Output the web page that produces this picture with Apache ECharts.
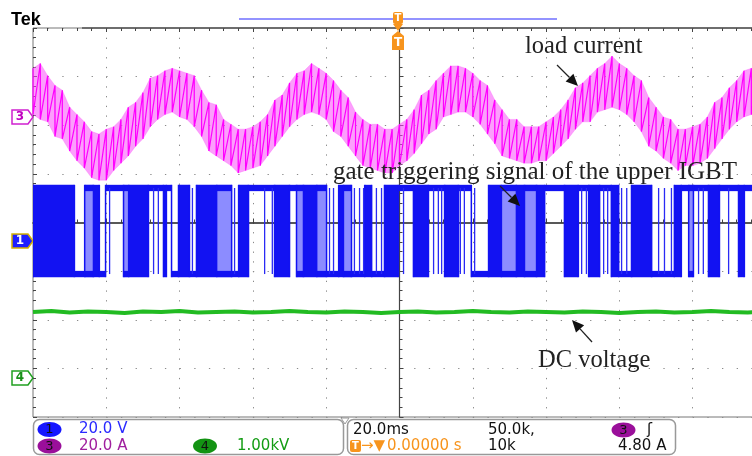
<!DOCTYPE html>
<html>
<head>
<meta charset="utf-8">
<script src="https://cdn.jsdelivr.net/npm/echarts@6/dist/echarts.min.js"></script>
<style>
html, body { margin: 0; padding: 0; background: #fff; }
#scope { width: 752px; height: 456px; }
</style>
</head>
<body>
<div id="scope"></div>
<script>
// timebase 20 ms/div, 10 divisions, trigger at centre -> -100 .. 100 ms
var sampleStep = 2; // ms between current samples

// ch3 load current (A): upper and lower edge of the noisy trace, one pair every 2 ms
var currentTop = [
  20, 22, 17, 13, 11, 4, 1, -2, -6, -7,
  -5, -4, -1, 4, 6, 10, 16, 17, 19, 20,
  19, 18, 17, 11, 6, 5, -1, -3, -5, -5,
  -4, -2, 1, 7, 9, 14, 18, 19, 22, 20,
  18, 15, 11, 8, 2, -1, -3, -3, -5, -5,
  -3, -1, 3, 9, 11, 15, 18, 21, 21, 20,
  18, 15, 13, 7, 3, -1, -1, -4, -4, -4,
  -2, 0, 3, 7, 12, 14, 17, 20, 22, 25,
  22, 20, 17, 15, 8, 4, 0, -1, -5, -5,
  -4, -3, 0, 6, 8, 12, 15, 19, 20, 21, 21
];
var currentBottom = [
  1, -1, -2, -8, -9, -14, -18, -21, -25, -26,
  -26, -22, -19, -16, -12, -9, -4, -1, 1, 2,
  0, -1, -4, -8, -14, -16, -18, -20, -23, -22,
  -21, -20, -16, -12, -8, -4, -1, 1, 2, 1,
  -1, -6, -8, -12, -16, -20, -21, -22, -23, -23,
  -20, -18, -15, -11, -7, -5, 0, 1, 2, 2,
  0, -3, -7, -11, -16, -17, -18, -19, -19, -18,
  -18, -15, -12, -9, -5, -2, -2, 2, 3, 4,
  3, 1, -2, -6, -12, -14, -17, -19, -22, -20,
  -20, -19, -17, -13, -9, -5, -2, 0, 1, 2, 2
];

// ch1 gate signal: segment borders (ms) and what the trace does in between
// H high, L low, D dense switching, d sparser switching
var pwmEdges = [
  -100, -88.7, -85.9, -83.5, -81.9, -80.2, -75.3, -73.9, -68.5, -64.4,
  -63.6, -62.2, -60.3, -57.3, -55.4, -49.9, -45.8, -43.9, -41.2, -34.1,
  -30.0, -28.1, -26.2, -22.6, -19.9, -16.6, -15.3, -13.1, -9.5, -7.6,
  -4.1, -0.3, 3.8, 7.9, 12.3, 16.1, 19.6, 24.3, 27.8, 31.9,
  34.1, 37.4, 39.6, 45.0, 48.8, 51.6, 54.6, 57.8, 59.8, 63.3,
  68.8, 75.0, 76.9, 78.9, 80.2, 84.3, 87.3, 92.5, 94.1, 100
];
var pwmStates = [
  'D', 'L', 'd', 'D', 'L', 'H', 'd', 'D', 'H', 'D',
  'H', 'L', 'D', 'L', 'D', 'd', 'L', 'D', 'H', 'D',
  'H', 'd', 'D', 'd', 'L', 'D', 'd', 'L', 'D', 'L',
  'D', 'H', 'D', 'H', 'D', 'H', 'L', 'D', 'd', 'D',
  'd', 'D', 'H', 'D', 'H', 'D', 'H', 'D', 'L', 'D',
  'L', 'D', 'H', 'd', 'H', 'D', 'H', 'D', 'H'
];
// single switching pulses inside the plain stretches (ms)
var pwmPulses = [
  -79.1, -67.1, -65.8, -56.5, -45.0, -36.8, -34.7, -19.1, -18.0, -12.3,
  -10.9, -9.8, -6.3, -4.9, 1.1, 9.3, 10.6, 11.5, 16.6, 17.7,
  20.5, 49.7, 51.0, 55.7, 56.8, 60.6, 62.0, 70.7, 72.3, 74.2,
  81.6, 82.9, 89.8
];
var pwmHigh = 21.8;  // V
var pwmLow = -13.6;  // V
var pwmNoise = 1.3;  // V, half thickness of the levels

// ch4 dc link voltage (kV), every 5 ms
var dcStep = 5;
var dcVoltage = [
  1.36, 1.38, 1.35, 1.37, 1.36, 1.34, 1.37, 1.36, 1.38, 1.35,
  1.36, 1.37, 1.35, 1.36, 1.38, 1.36, 1.35, 1.37, 1.36, 1.34,
  1.36, 1.37, 1.35, 1.36, 1.38, 1.36, 1.35, 1.37, 1.36, 1.35,
  1.37, 1.36, 1.34, 1.36, 1.37, 1.35, 1.36, 1.38, 1.36, 1.35, 1.36
];

// channel ground offsets (div from centre) and scale per division
var ch1Offset = -0.38, ch1PerDiv = 20;
var ch3Offset = 2.17, ch3PerDiv = 20;
var ch4Offset = -3.2, ch4PerDiv = 1;

var times = currentTop.map(function (v, i) { return -100 + i * sampleStep; });
var curZig = [];
var curBand = [];
for (var i = 0; i < times.length; i++) {
  curZig.push([times[i], currentTop[i]]);
  curZig.push([times[i], currentBottom[i]]);
  if (i < times.length - 1) {
    curBand.push([times[i], currentTop[i], currentBottom[i], times[i + 1], currentTop[i + 1], currentBottom[i + 1]]);
  }
}
var dcData = dcVoltage.map(function (v, i) { return [-100 + i * dcStep, v]; });

var pwmCode = { L: 0, H: 1, D: 2, d: 3 };
var pwmData = pwmStates.map(function (s, i) { return [pwmEdges[i], pwmEdges[i + 1], pwmCode[s]]; });
var pulseData = pwmPulses.map(function (t) { return [t, pwmHigh]; });

var BLUE = '#1212f2';

function renderBand(params, api) {
  var a = api.coord([api.value(0), api.value(1)]);
  var b = api.coord([api.value(3), api.value(4)]);
  var c = api.coord([api.value(3), api.value(5)]);
  var d = api.coord([api.value(0), api.value(2)]);
  return { type: 'polygon', shape: { points: [a, b, c, d] }, style: { fill: 'rgba(250,80,250,0.55)', stroke: 'rgba(250,80,250,0.55)', lineWidth: 0.5 } };
}

function renderPwm(params, api) {
  var x0 = api.value(0), x1 = api.value(1), st = api.value(2);
  var hiA = api.coord([x0, pwmHigh + pwmNoise]), hiB = api.coord([x1, pwmHigh - pwmNoise]);
  var loA = api.coord([x0, pwmLow + pwmNoise]), loB = api.coord([x1, pwmLow - pwmNoise]);
  var kids = [];
  function box(a, b, fill) {
    kids.push({ type: 'rect', shape: { x: a[0], y: a[1], width: b[0] - a[0], height: b[1] - a[1] }, style: { fill: fill } });
  }
  if (st === 2) {
    box(hiA, loB, BLUE);
  } else if (st === 3) {
    box(hiA, loB, '#8c8cff');
    box(hiA, hiB, BLUE);
    box(loA, loB, BLUE);
  } else if (st === 1) {
    box(hiA, hiB, BLUE);
  } else {
    box(loA, loB, BLUE);
  }
  kids.push({ type: 'line', shape: { x1: hiA[0], y1: hiA[1], x2: loA[0], y2: loB[1] }, style: { stroke: BLUE, lineWidth: 1.5 } });
  return { type: 'group', children: kids };
}

function renderPulse(params, api) {
  var a = api.coord([api.value(0), pwmHigh]);
  var b = api.coord([api.value(0), pwmLow]);
  return { type: 'line', shape: { x1: a[0], y1: a[1], x2: b[0], y2: b[1] }, style: { stroke: '#2a2af5', lineWidth: 1.3 } };
}

function chAxis(offset, perDiv) {
  return { type: 'value', show: false, position: 'right', min: (-4 - offset) * perDiv, max: (4 - offset) * perDiv };
}

function arrow(x1, y1, x2, y2) {
  var ang = Math.atan2(y2 - y1, x2 - x1), len = 12, w = 5.5;
  var bx = x2 - len * Math.cos(ang), by = y2 - len * Math.sin(ang);
  return [
    { type: 'line', z: 100, shape: { x1: x1, y1: y1, x2: bx, y2: by }, style: { stroke: '#222', lineWidth: 1.3 } },
    { type: 'polygon', z: 100, shape: { points: [[x2, y2], [bx - w * Math.sin(ang), by + w * Math.cos(ang)], [bx + w * Math.sin(ang), by - w * Math.cos(ang)]] }, style: { fill: '#111' } }
  ];
}

function marker(y, label, stroke, fill, color) {
  return [
    { type: 'polygon', shape: { points: [[12, y - 7], [28, y - 7], [33, y], [28, y + 7], [12, y + 7]] }, style: { fill: fill, stroke: stroke, lineWidth: 1.5 } },
    { type: 'text', style: { text: label, x: 20, y: y, font: 'bold 12px "DejaVu Sans"', fill: color, textAlign: 'center', textVerticalAlign: 'middle' } }
  ];
}

function badge(cx, cy, label, fill) {
  return [
    { type: 'ellipse', shape: { cx: cx, cy: cy, rx: 12, ry: 7.5 }, style: { fill: fill } },
    { type: 'text', style: { text: label, x: cx, y: cy + 0.5, font: '13px "DejaVu Sans"', fill: '#111', textAlign: 'center', textVerticalAlign: 'middle' } }
  ];
}

function stat(x, y, text, color) {
  return { type: 'text', style: { text: text, x: x, y: y, font: '15px "DejaVu Sans"', fill: color, textAlign: 'left', textVerticalAlign: 'middle' } };
}

function note(x, y, text, size) {
  return { type: 'text', z: 100, style: { text: text, x: x, y: y, font: size + 'px "Liberation Serif"', fill: '#222', textAlign: 'left', textVerticalAlign: 'middle' } };
}

var tickStyle = { color: '#444', width: 1 };

var graphics = [].concat(
  [
    { type: 'text', style: { text: 'Tek', x: 11, y: 20, font: 'bold 18px "Liberation Sans"', fill: '#000', textVerticalAlign: 'middle' } },
    { type: 'line', shape: { x1: 239, y1: 19, x2: 557, y2: 19 }, style: { stroke: '#6f6fff', lineWidth: 1.5 } },
    { type: 'line', z: 50, shape: { x1: 82, y1: 28, x2: 752, y2: 28 }, style: { stroke: '#555', lineWidth: 1.5 } },
    // trigger position marks
    { type: 'rect', z: 60, shape: { x: 393, y: 12, width: 10, height: 12, r: 2 }, style: { fill: '#f7941d' } },
    { type: 'polygon', z: 60, shape: { points: [[393, 24], [403, 24], [398, 31]] }, style: { fill: '#f7941d' } },
    { type: 'text', z: 61, style: { text: 'T', x: 398, y: 18.5, font: 'bold 10px "DejaVu Sans"', fill: '#fff', textAlign: 'center', textVerticalAlign: 'middle' } },
    { type: 'polygon', z: 60, shape: { points: [[398, 31], [404, 36], [404, 50], [392, 50], [392, 36]] }, style: { fill: '#f7941d' } },
    { type: 'text', z: 61, style: { text: 'T', x: 398, y: 43, font: 'bold 12px "DejaVu Sans"', fill: '#fff', textAlign: 'center', textVerticalAlign: 'middle' } }
  ],
  marker(117, '3', '#d020d0', '#fff', '#c000c0'),
  marker(241, '1', '#d4b000', '#1e1eff', '#fff'),
  marker(378, '4', '#20a020', '#fff', '#189018'),
  [
    note(525, 47, 'load current', 24.5),
    note(333, 172, 'gate triggering signal of the upper IGBT', 25),
    note(538, 361, 'DC voltage', 24.5)
  ],
  arrow(557, 65, 578, 86),
  arrow(500, 186, 520, 206),
  arrow(592, 342, 572, 320),
  [
    // status bar
    { type: 'rect', shape: { x: 33.5, y: 419.5, width: 310, height: 35, r: 6 }, style: { fill: '#fff', stroke: '#999', lineWidth: 1.5 } },
    { type: 'rect', shape: { x: 347.5, y: 419.5, width: 328, height: 35, r: 6 }, style: { fill: '#fff', stroke: '#999', lineWidth: 1.5 } },
    { type: 'polygon', shape: { points: [[341, 418], [349, 418], [345, 424]] }, style: { fill: '#fff', stroke: '#999', lineWidth: 1 } }
  ],
  badge(49.5, 429.5, '1', '#1616ff'),
  badge(49.5, 446, '3', '#9a0f9a'),
  badge(205, 446, '4', '#139313'),
  badge(623.5, 430, '3', '#9a0f9a'),
  [
    stat(79, 429.5, '20.0 V', '#2a2aff'),
    stat(79, 446, '20.0 A', '#a0209f'),
    stat(237, 446, '1.00kV', '#139c13'),
    stat(353, 430, '20.0ms', '#111'),
    { type: 'rect', shape: { x: 350, y: 440, width: 11, height: 12, r: 2 }, style: { fill: '#f7941d' } },
    { type: 'text', style: { text: 'T', x: 355.5, y: 446.5, font: 'bold 10px "DejaVu Sans"', fill: '#fff', textAlign: 'center', textVerticalAlign: 'middle' } },
    stat(361, 446, '\u2192\u25BC', '#f7941d'),
    stat(387, 446, '0.00000 s', '#f7941d'),
    stat(488, 430, '50.0k,', '#111'),
    stat(488, 446, '10k', '#111'),
    stat(647, 430, '\u0283', '#111'),
    stat(618, 446, '4.80 A', '#111')
  ]
);

var chart = echarts.init(document.getElementById('scope'));
chart.setOption({
  animation: false,
  backgroundColor: '#fff',
  grid: { left: 33, top: 28, width: 733, height: 389, show: true, borderColor: '#777', borderWidth: 1, outerBoundsMode: 'none' },
  xAxis: [
    {
      type: 'value', position: 'bottom', min: -100, max: 100, interval: 20,
      axisLine: { show: true, onZero: true, onZeroAxisIndex: 0, lineStyle: { color: '#222', width: 1.5 } },
      axisTick: { show: true, inside: true, length: 4, lineStyle: tickStyle },
      minorTick: { show: true, splitNumber: 5, length: 3, lineStyle: tickStyle },
      axisLabel: { show: false },
      splitLine: { show: true, lineStyle: { color: '#8a8a8a', width: 1, type: [1.3, 8.42] } }
    },
    {
      type: 'value', position: 'top', min: -100, max: 100, interval: 20,
      axisLine: { show: false, onZero: false },
      axisTick: { show: true, inside: true, length: 4, lineStyle: tickStyle },
      minorTick: { show: true, splitNumber: 5, length: 3, lineStyle: tickStyle },
      axisLabel: { show: false },
      splitLine: { show: false }
    }
  ],
  yAxis: [
    {
      type: 'value', position: 'left', min: -4, max: 4, interval: 1,
      axisLine: { show: true, onZero: true, onZeroAxisIndex: 0, lineStyle: { color: '#444', width: 1.2 } },
      axisTick: { show: true, inside: true, length: 4, lineStyle: tickStyle },
      minorTick: { show: true, splitNumber: 5, length: 3, lineStyle: tickStyle },
      axisLabel: { show: false },
      splitLine: { show: true, lineStyle: { color: '#8a8a8a', width: 1, type: [1.3, 13.36] } }
    },
    {
      type: 'value', position: 'left', min: -4, max: 4, interval: 1,
      axisLine: { show: false, onZero: false },
      axisTick: { show: true, inside: true, length: 4, lineStyle: tickStyle },
      minorTick: { show: true, splitNumber: 5, length: 3, lineStyle: tickStyle },
      axisLabel: { show: false },
      splitLine: { show: false }
    },
    chAxis(ch1Offset, ch1PerDiv),
    chAxis(ch3Offset, ch3PerDiv),
    chAxis(ch4Offset, ch4PerDiv)
  ],
  series: [
    {
      name: 'current band', type: 'custom', xAxisIndex: 0, yAxisIndex: 3, clip: true,
      renderItem: renderBand, encode: { x: [0, 3], y: [1, 2, 4, 5] }, data: curBand, silent: true
    },
    {
      name: 'load current', type: 'line', xAxisIndex: 0, yAxisIndex: 3,
      data: curZig, showSymbol: false, symbol: 'none',
      lineStyle: { color: '#ff00ff', width: 1.2 }, silent: true
    },
    {
      name: 'gate', type: 'custom', xAxisIndex: 0, yAxisIndex: 2, clip: true,
      renderItem: renderPwm, encode: { x: [0, 1], y: 2 }, data: pwmData, silent: true
    },
    {
      name: 'gate pulses', type: 'custom', xAxisIndex: 0, yAxisIndex: 2, clip: true,
      renderItem: renderPulse, encode: { x: 0, y: 1 }, data: pulseData, silent: true
    },
    {
      name: 'DC voltage', type: 'line', xAxisIndex: 0, yAxisIndex: 4,
      data: dcData, showSymbol: false, symbol: 'none',
      lineStyle: { color: '#22bb22', width: 4 }, silent: true
    }
  ],
  graphic: { elements: graphics }
});
</script>
</body>
</html>
